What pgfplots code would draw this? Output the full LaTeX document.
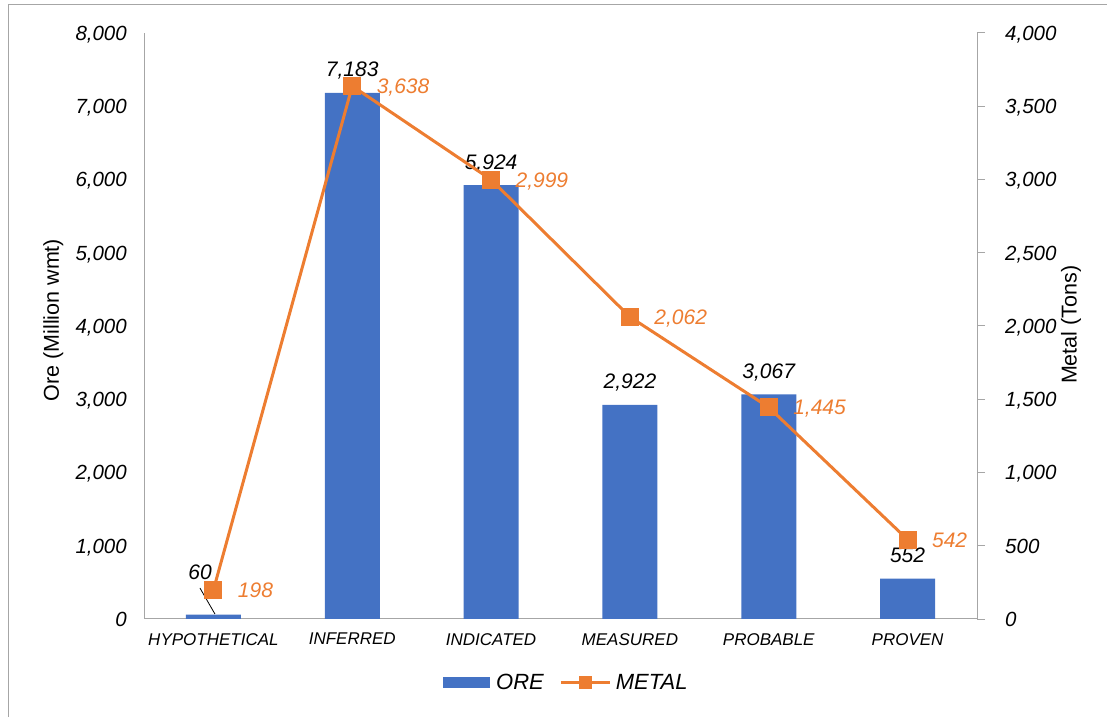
\documentclass[border=0pt]{standalone}
\usepackage{pgfplots}
\pgfplotsset{compat=1.18}
\usepackage{pgfplotstable}
\usepackage{fontspec}
\setmainfont{Liberation Sans}
\definecolor{oreblue}{HTML}{4472C4}
\definecolor{metalor}{HTML}{ED7D31}
\definecolor{axisgray}{HTML}{A6A6A6}
\definecolor{bordergray}{HTML}{A6A6A6}
\newcommand{\fs}[1]{\fontsize{#1}{#1}\selectfont}
\pgfplotsset{/pgf/number format/1000 sep={,}, /pgf/number format/assume math mode=true}

\pgfplotstableread{
x ore dx dy metal
0 60 -13.4 35.6 198
1 7183 0 16 3638
2 5924 0 16 2999
3 2922 0 16 2062
4 3067 0 16 1445
5 552 0 16 542
}\datatable

\begin{document}
\begin{tikzpicture}
\useasboundingbox (0,0) rectangle (1107pt,717pt);
\draw[bordergray, line width=1pt] (8pt,0pt) -- (8pt,712pt) -- (1107pt,712pt);
\begin{axis}[
  scale only axis, width=833pt, height=586pt, at={(144pt,98pt)}, anchor=south west,
  xmin=-0.5, xmax=5.5, ymin=0, ymax=8000,
  axis lines*=left,
  axis line style={draw=axisgray, line width=1pt},
  xtick={0,...,5},
  xticklabels={HYPOTHETICAL,INFERRED,INDICATED,MEASURED,PROBABLE,PROVEN},
  ytick={0,1000,...,8000},
  major tick length=0pt,
  scaled y ticks=false,
  yticklabel style={font=\fs{20.5}\itshape, anchor=base east, inner sep=0pt, xshift=-17pt, yshift=-7.3pt},
  xticklabel style={font=\fs{17}\itshape, anchor=north, inner sep=0pt, yshift=-14pt},
  every axis y label/.style={at={(axis description cs:-0.109,0.51)}, rotate=90, anchor=center, font=\fs{21.5}},
  ylabel={Ore (Million wmt)},
]
\addplot[ybar, bar width=55pt, fill=oreblue, draw=none,
  point meta=y,
  nodes near coords,
  visualization depends on={\thisrow{dx} \as \dx},
  visualization depends on={\thisrow{dy} \as \dy},
  every node near coord/.append style={font=\fs{21}\itshape, text=black, anchor=base, inner sep=0pt, xshift=\dx pt, yshift=\dy pt},
] table[x=x, y=ore] {\datatable};
\draw[black, line width=0.8pt] (axis cs:-0.097,423) -- (axis cs:0.011,68);
\end{axis}
\begin{axis}[
  scale only axis, width=833pt, height=586pt, at={(144pt,98pt)}, anchor=south west,
  xmin=-0.5, xmax=5.5, ymin=0, ymax=4000,
  axis x line=none, axis y line*=right,
  axis line style={draw=axisgray, line width=1pt},
  ytick={0,500,...,4000},
  tick align=outside, major tick length=8pt,
  ytick style={draw=axisgray, line width=1pt},
  scaled y ticks=false,
  yticklabel style={font=\fs{20.5}\itshape, anchor=base west, inner sep=0pt, xshift=20pt, yshift=-7.3pt},
  every axis y label/.style={at={(axis description cs:1.1128,0.502)}, rotate=90, anchor=center, font=\fs{21.5}},
  ylabel={Metal (Tons)},
  legend columns=2,
  legend style={at={(axis description cs:0.507,-0.109)}, anchor=center, draw=none, fill=none,
    font=\fs{22}\itshape},
]
\addlegendimage{legend image code/.code={\path[draw=none, fill=none] (0pt,0pt) -- (51pt,0pt); \fill[oreblue, draw=none] (0pt,-5.5pt) rectangle (47pt,5.5pt);}}
\addlegendentry{ORE}
\addlegendimage{legend image code/.code={\path[draw=none, fill=none] (-15pt,0pt) -- (53pt,0pt); \draw[metalor, line width=3pt] (0pt,0pt) -- (49pt,0pt); \fill[metalor, draw=none] (18pt,-6.5pt) rectangle (31pt,6.5pt);}}
\addlegendentry{METAL}
\addplot[metalor, line width=3pt, mark=square*, mark size=7.5pt, mark options={fill=metalor, draw=none},
  point meta=y, nodes near coords, forget plot,
  every node near coord/.append style={font=\fs{21}\itshape, text=metalor, anchor=base west, inner sep=0pt, xshift=23pt, yshift=-7.5pt},
] table[x=x, y=metal] {\datatable};
\end{axis}
\end{tikzpicture}
\end{document}
